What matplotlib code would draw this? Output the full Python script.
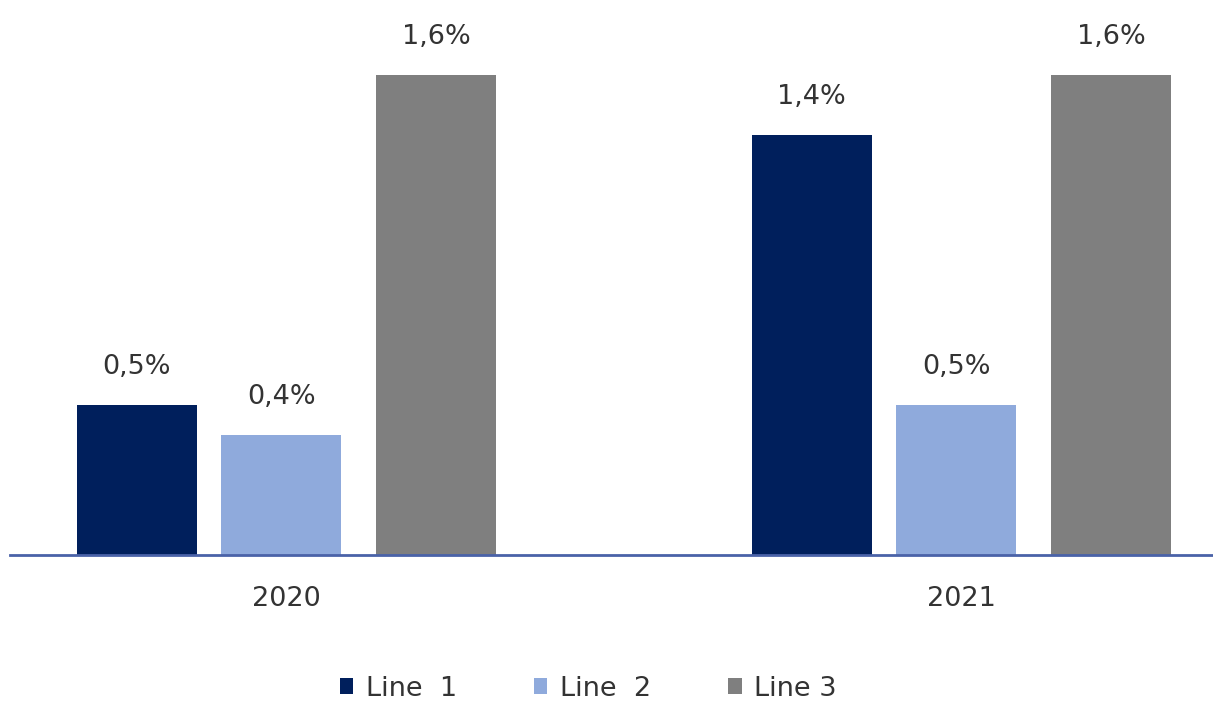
import matplotlib.pyplot as plt

# datos
anios = ["2020", "2021"]
series = ["Line  1", "Line  2", "Line 3"]
line1 = [0.5, 1.4]
line2 = [0.4, 0.5]
line3 = [1.6, 1.6]
etiquetas = [["0,5%", "1,4%"], ["0,4%", "0,5%"], ["1,6%", "1,6%"]]

colores = ["#001f5c", "#8faadc", "#7f7f7f"]
desplaz = [-0.222, -0.008, 0.222]
ancho = 0.178

plt.rcParams["font.family"] = ["DejaVu Sans"]

fig = plt.figure(figsize=(12.13, 7.02), dpi=100)
ax = fig.add_axes([10 / 1213, 1 - 555 / 702, 1 - 10 / 1213, 555 / 702])

for i, valores in enumerate([line1, line2, line3]):
    xs = [k + desplaz[i] for k in range(len(anios))]
    barras = ax.bar(xs, valores, width=ancho, color=colores[i], label=series[i], zorder=2)
    for b, txt in zip(barras, etiquetas[i]):
        ax.annotate(txt, (b.get_x() + b.get_width() / 2, b.get_height()),
                    xytext=(0, 18), textcoords="offset points",
                    ha="center", va="bottom", fontsize=19.5, color="#333333")

ax.set_xlim(-0.4096, 1.3726)
ax.set_ylim(0, 1.85)
ax.set_xticks(range(len(anios)))
ax.set_xticklabels(anios, fontsize=19.5, color="#333333")
ax.tick_params(axis="x", length=0, pad=22)
ax.set_yticks([])
for lado in ["top", "right", "left"]:
    ax.spines[lado].set_visible(False)
ax.spines["bottom"].set_color("#4a62a8")
ax.spines["bottom"].set_linewidth(2)
ax.spines["bottom"].set_zorder(3)

ax.legend(loc="center", bbox_to_anchor=(0.4805, -0.241), ncol=3,
          frameon=False, fontsize=19.5, handlelength=0.5, handleheight=0.5,
          handletextpad=0.45, columnspacing=2.85, labelcolor="#333333")

fig.savefig("out.png", dpi=100)
